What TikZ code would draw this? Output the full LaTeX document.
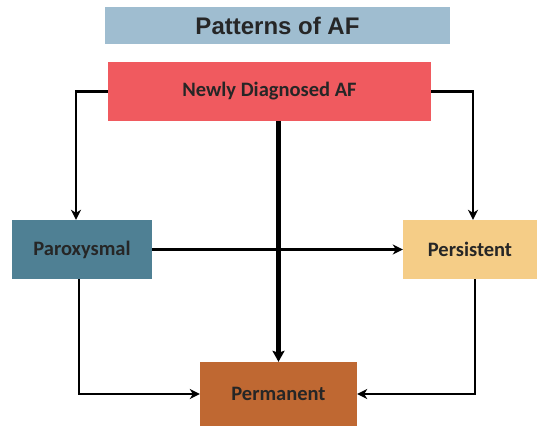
\documentclass[tikz,border=0pt]{standalone}
\usepackage{fontspec}
\setmainfont{Carlito}
\newfontfamily\titlefont{Liberation Sans}
\usetikzlibrary{arrows.meta}
\definecolor{titlebg}{HTML}{9FBDD0}
\definecolor{newbg}{HTML}{F05A5F}
\definecolor{parbg}{HTML}{4F8094}
\definecolor{perbg}{HTML}{F5CD87}
\definecolor{permbg}{HTML}{BF6832}
\definecolor{txt}{HTML}{262626}
\begin{document}
\begin{tikzpicture}[x=1pt,y=-1pt,
  box/.style={inner sep=0pt, text=txt, font=\bfseries\fontsize{20.5}{22}\selectfont},
  conn/.style={line width=2.6pt, -{Stealth[length=10pt,width=10pt,inset=3pt]}},
  thick conn/.style={line width=4.8pt, -{Stealth[length=11pt,width=12pt,inset=2pt]}}]
\useasboundingbox (0,0) rectangle (537,426);
\node[box, fill=titlebg, minimum width=345pt, minimum height=37pt, font=\titlefont\bfseries\fontsize{24}{26}\selectfont] (title) at (277.5,25.5) {Patterns of AF};
\node[box, fill=newbg, minimum width=323pt, minimum height=59pt, font=\bfseries\fontsize{20.5}{22}\selectfont] (newly) at (269.5,91.5) {Newly Diagnosed AF};
\node[box, fill=parbg, minimum width=140pt, minimum height=59pt] (parox) at (82,249.5) {Paroxysmal};
\node[box, fill=perbg, minimum width=134pt, minimum height=59pt] (persist) at (470,249.5) {Persistent};
\node[box, fill=permbg, minimum width=157pt, minimum height=64pt] (perm) at (278.5,394) {Permanent};
\draw[conn] (newly.west) -| ([xshift=-6pt]parox.north);
\draw[conn] (newly.east) -| ([xshift=3pt]persist.north);
\draw[thick conn] (perm.north |- newly.south) -- (perm.north);
\draw[conn] (parox.east) -- (persist.west);
\draw[conn] ([xshift=-3pt]parox.south) |- (perm.west);
\draw[conn] ([xshift=5pt]persist.south) |- (perm.east);
\end{tikzpicture}
\end{document}
